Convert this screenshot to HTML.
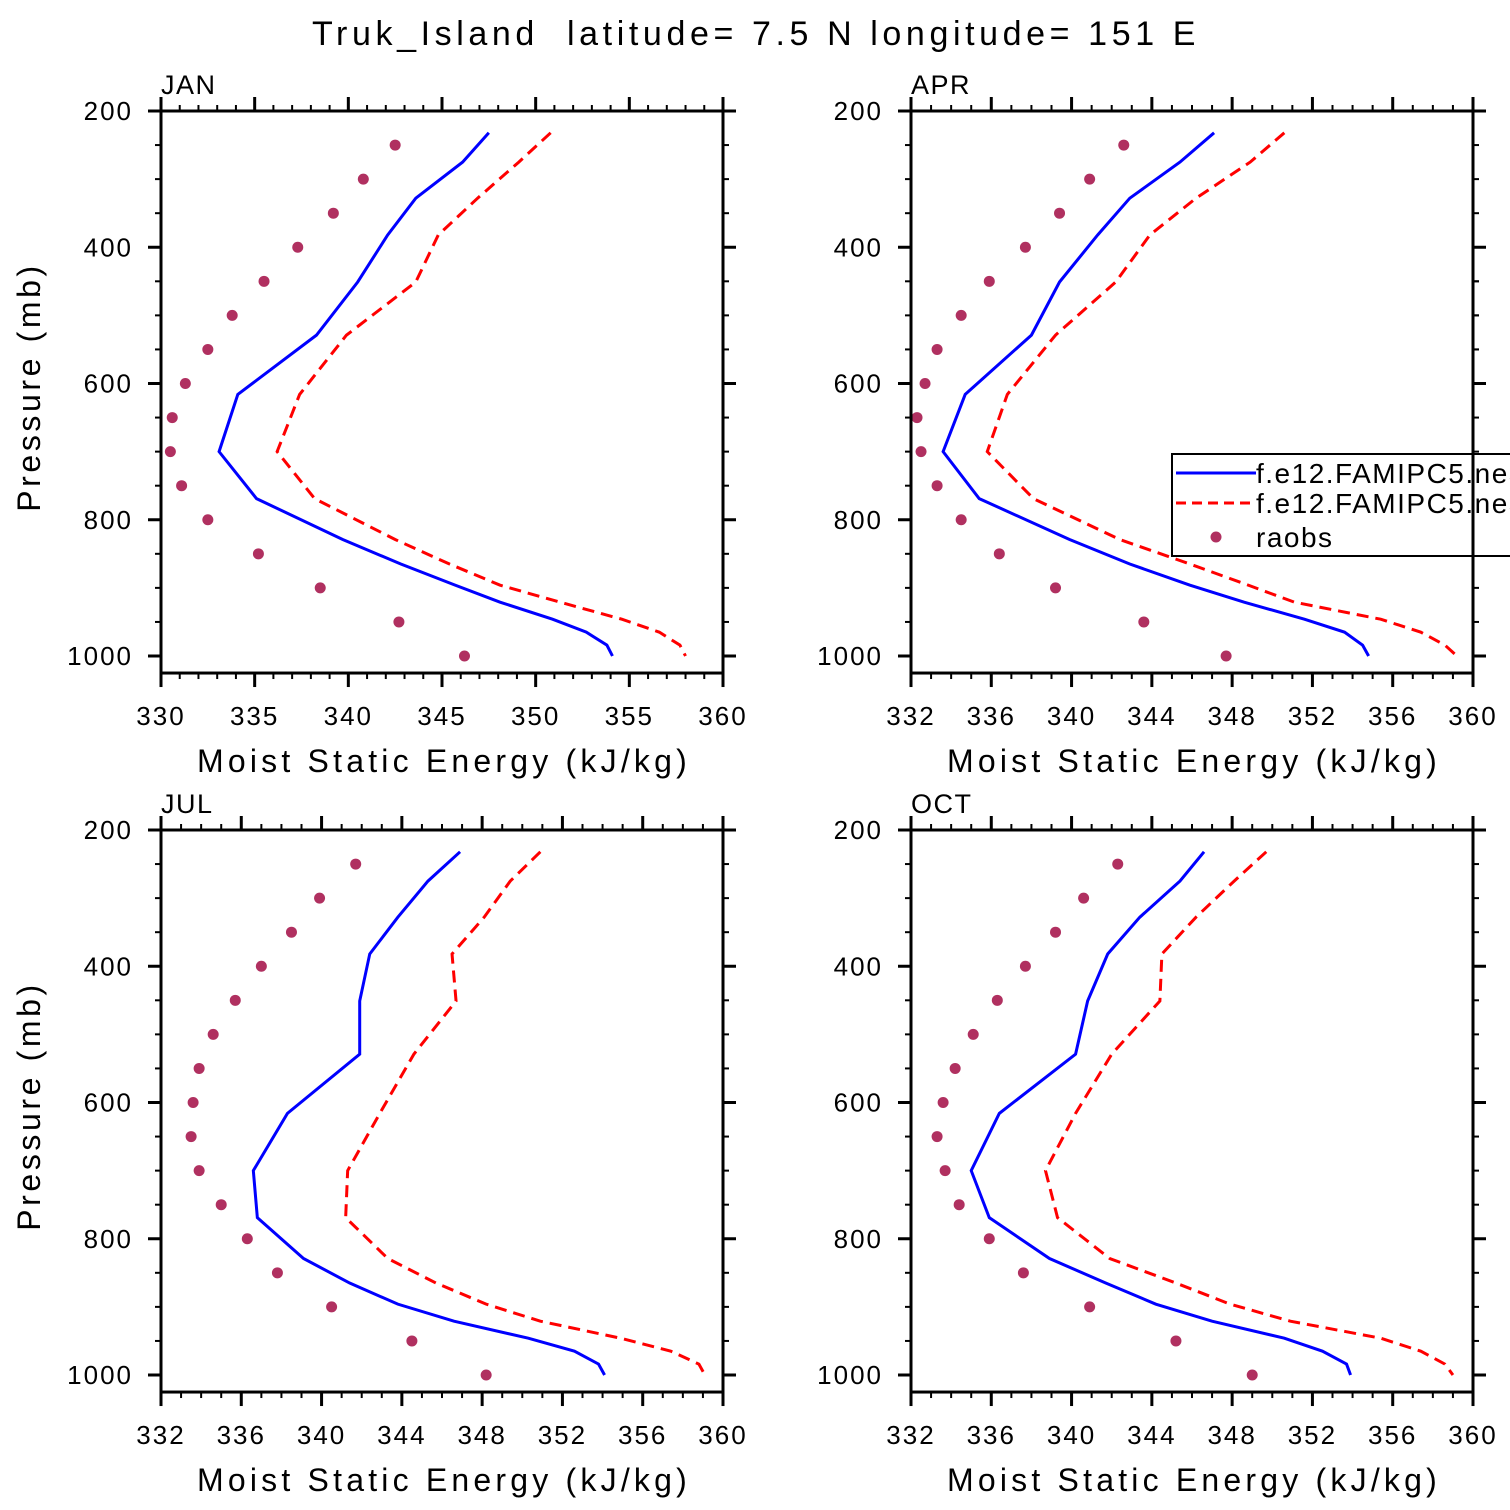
<!DOCTYPE html>
<html><head><meta charset="utf-8"><style>
html,body{margin:0;padding:0;background:#fff;}
svg{display:block;font-family:"Liberation Sans","DejaVu Sans",sans-serif;}
</style></head><body>
<svg id="chart" width="1510" height="1510" viewBox="0 0 1510 1510" xmlns="http://www.w3.org/2000/svg">
<text x="756" y="45" font-size="34" text-anchor="middle" letter-spacing="4.6" xml:space="preserve">Truk_Island  latitude= 7.5 N longitude= 151 E</text>
<g id="panels"></g>
</svg>
<script>
const panelNames = ["JAN","APR","JUL","OCT"];
const modelLevels = [232,275,328,382,451,529,616,700,769,829,865,896,921,946,965,984,1000];
const obsLevels = [250,300,350,400,450,500,550,600,650,700,750,800,850,900,950,1000];
const blueJAN = [347.5,346.1,343.6,342.1,340.5,338.3,334.1,333.1,335.1,339.7,342.8,345.7,348.1,350.9,352.7,353.8,354.1];
const redJAN  = [350.8,349.1,346.9,344.8,343.6,339.9,337.4,336.2,338.2,342.5,345.4,348.1,351.3,354.6,356.6,357.7,358.0];
const obsJAN  = [342.5,340.8,339.2,337.3,335.5,333.8,332.5,331.3,330.6,330.5,331.1,332.5,335.2,338.5,342.7,346.2];
const blueAPR = [347.1,345.4,342.9,341.3,339.4,338.0,334.7,333.6,335.4,339.9,342.9,345.9,348.6,351.6,353.6,354.5,354.8];
const redAPR  = [350.6,348.9,346.2,343.9,342.2,339.2,336.8,335.8,338.1,342.4,345.9,348.8,351.1,355.4,357.4,358.6,359.2];
const obsAPR  = [342.6,340.9,339.4,337.7,335.9,334.5,333.3,332.7,332.3,332.5,333.3,334.5,336.4,339.2,343.6,347.7];
const blueJUL = [346.9,345.3,343.8,342.4,341.9,341.9,338.3,336.6,336.8,339.1,341.4,343.8,346.6,350.3,352.6,353.8,354.1];
const redJUL  = [350.9,349.4,348.1,346.5,346.7,344.6,342.9,341.3,341.2,343.3,345.7,348.2,350.9,354.9,357.4,358.8,359.1];
const obsJUL  = [341.7,339.9,338.5,337.0,335.7,334.6,333.9,333.6,333.5,333.9,335.0,336.3,337.8,340.5,344.5,348.2];
const blueOCT = [346.6,345.4,343.4,341.8,340.8,340.2,336.4,335.0,335.9,338.9,341.7,344.2,347.0,350.6,352.5,353.7,353.9];
const redOCT  = [349.7,348.1,346.2,344.5,344.4,342.0,340.2,338.7,339.3,341.9,345.2,347.9,350.9,355.4,357.4,358.6,359.0];
const obsOCT  = [342.3,340.6,339.2,337.7,336.3,335.1,334.2,333.6,333.3,333.7,334.4,335.9,337.6,340.9,345.2,349.0];
const xMins = [330,332,332,332];
const xMajorSteps = [5,4,4,4];
const yTicks = [200,400,600,800,1000];
const legendLabels = ["f.e12.FAMIPC5.ne30_g16","f.e12.FAMIPC5.ne30_g16","raobs"];

const NS="http://www.w3.org/2000/svg";
const root=document.getElementById('panels');
function mk(tag,attrs,parent){const e=document.createElementNS(NS,tag);for(const k in attrs)e.setAttribute(k,attrs[k]);(parent||root).appendChild(e);return e;}
const series=[[blueJAN,redJAN,obsJAN],[blueAPR,redAPR,obsAPR],[blueJUL,redJUL,obsJUL],[blueOCT,redOCT,obsOCT]];
const origins=[[161,111],[911,111],[161,830],[911,830]];
const W=562, PMIN=200, PMAX=1025, PXPERMB=545/800, H=(PMAX-PMIN)*PXPERMB;

panelNames.forEach((name,i)=>{
  const [x0,y0]=origins[i];
  const g=mk('g',{});
  
  
  const xmin=xMins[i], xmax=360;
  const sx=v=>x0+(v-xmin)/(xmax-xmin)*W;
  const sy=p=>y0+(p-PMIN)*PXPERMB;
  const clipId='clip'+i;
  const cp=mk('clipPath',{id:clipId},g); mk('rect',{x:x0,y:y0,width:W,height:H},cp);
  const [b,r,o]=series[i];
  const bl=mk('polyline',{points:modelLevels.map((p,k)=>sx(b[k])+','+sy(p)).join(' '),fill:'none',stroke:'#0000ff','stroke-width':3,'clip-path':`url(#${clipId})`},g);
  
  
  const rl=mk('polyline',{points:modelLevels.map((p,k)=>sx(r[k])+','+sy(p)).join(' '),fill:'none',stroke:'#ff0000','stroke-width':3,'stroke-dasharray':'12 7','clip-path':`url(#${clipId})`},g);
  
  
  obsLevels.forEach((p,k)=>{
    const c=mk('circle',{cx:sx(o[k]),cy:sy(p),r:5.5,fill:'#b03060'},g);
    
    
  });
  const fr=mk('rect',{x:x0,y:y0,width:W,height:H,fill:'none',stroke:'#000','stroke-width':3},g);
  
  
  for(let v=xmin;v<=xmax;v++){
    const major=(v-xmin)%xMajorSteps[i]===0;
    const L=major?14:6, X=sx(v);
    mk('line',{x1:X,y1:y0,x2:X,y2:y0-L,stroke:'#000','stroke-width':major?3:2},g);
    mk('line',{x1:X,y1:y0+H,x2:X,y2:y0+H+L,stroke:'#000','stroke-width':major?3:2},g);
    if(major){
      const t=mk('text',{x:X,y:y0+H+52,'font-size':26,'text-anchor':'middle','letter-spacing':'2'},g);
      t.textContent=v;
      
      
    }
  }
  for(let p=200;p<=1000;p+=50){
    const major=yTicks.includes(p), L=major?13:6, Y=sy(p);
    mk('line',{x1:x0,y1:Y,x2:x0-L,y2:Y,stroke:'#000','stroke-width':major?3:2},g);
    mk('line',{x1:x0+W,y1:Y,x2:x0+W+L,y2:Y,stroke:'#000','stroke-width':major?3:2},g);
  }
  yTicks.forEach(p=>{
    const t=mk('text',{x:x0-28,y:sy(p)+9,'font-size':26,'text-anchor':'end','letter-spacing':'2'},g);
    t.textContent=p;
    
    
  });
  const lab=mk('text',{x:x0,y:y0-17,'font-size':27,'letter-spacing':'1.5'},g);
  lab.textContent=name;
  
  
  const xt=mk('text',{x:x0+W/2+2,y:y0+H+99,'font-size':32,'text-anchor':'middle','letter-spacing':'4.2'},g);
  xt.textContent='Moist Static Energy (kJ/kg)';
  
  
  if(i%2===0){
    const cy=y0+H/2-5;
    const yt=mk('text',{x:40,y:cy,'font-size':32,'text-anchor':'middle','letter-spacing':'3.6',transform:`rotate(-90 40 ${cy})`},g);
    yt.textContent='Pressure (mb)';
    
    
  }
});
const lg=mk('g',{});


mk('rect',{x:1172,y:454,width:400,height:102,fill:'#fff',stroke:'#000','stroke-width':2},lg);
mk('line',{x1:1176,y1:473,x2:1256,y2:473,stroke:'#0000ff','stroke-width':3},lg);
mk('line',{x1:1176,y1:503,x2:1256,y2:503,stroke:'#ff0000','stroke-width':3,'stroke-dasharray':'10 6'},lg);
mk('circle',{cx:1216,cy:537,r:5.5,fill:'#b03060'},lg);
[483,513,547].forEach((y,k)=>{
  const t=mk('text',{x:1256,y:y,'font-size':28,'letter-spacing':'1.5'},lg);
  t.textContent=legendLabels[k];
  
  
});
mk('line',{x1:1473,y1:440,x2:1473,y2:570,stroke:'#000','stroke-width':3},lg);
[450,500,550].forEach(p=>mk('line',{x1:1473,y1:111+(p-200)*545/800,x2:1479,y2:111+(p-200)*545/800,stroke:'#000','stroke-width':2},lg));
</script>
</body></html>
